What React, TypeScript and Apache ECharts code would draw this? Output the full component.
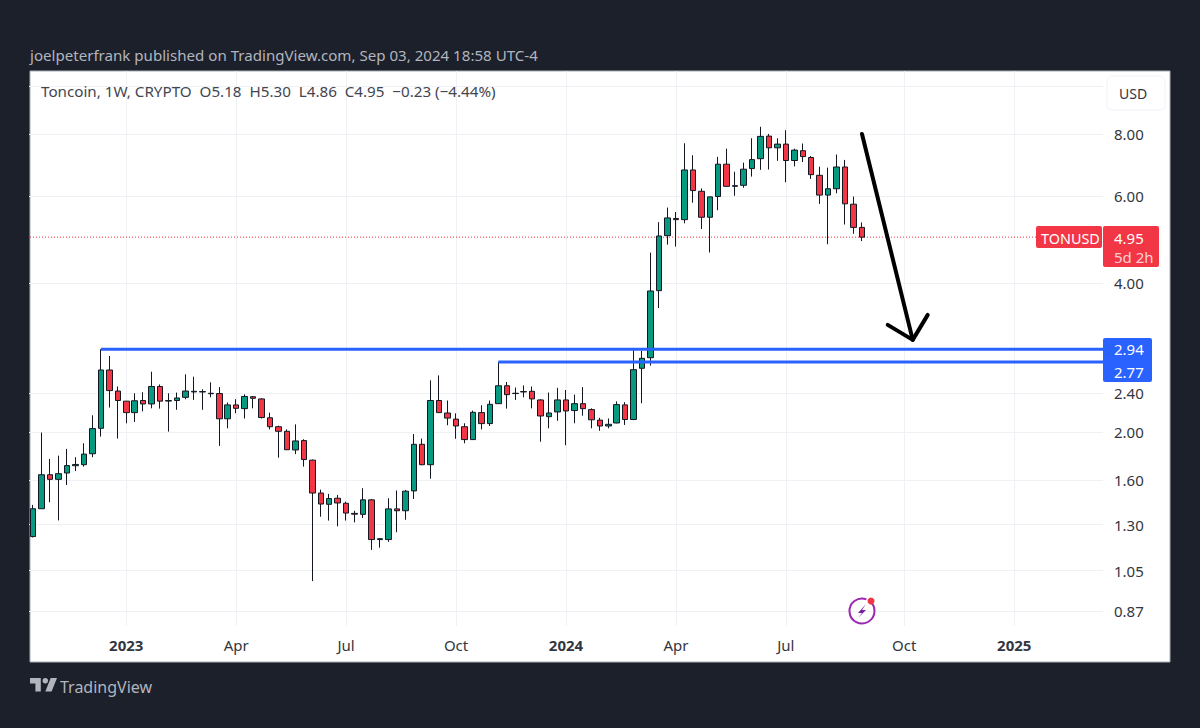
import React, { useEffect, useRef } from "react";
import * as echarts from "echarts";

const FONT = "'Noto Sans', sans-serif";
const opens = [1.23,1.40,1.64,1.605,1.653,1.71,1.718,1.808,2.035,2.669,2.42,2.309,2.189,2.316,2.279,2.472,2.31,2.316,2.35,2.41,2.414,2.395,2.392,2.127,2.269,2.23,2.357,2.333,2.137,2.05,2.007,1.84,1.922,1.755,1.506,1.429,1.47,1.436,1.37,1.364,1.459,1.213,1.213,1.399,1.387,1.521,1.889,1.718,2.316,2.185,2.124,2.05,1.931,2.189,2.08,2.282,2.48,2.395,2.41,2.417,2.322,2.148,2.196,2.322,2.21,2.282,2.22,2.114,2.057,2.086,2.269,2.12,2.69,2.826,3.86,4.985,5.40,5.37,6.766,6.127,5.43,5.98,6.95,6.29,6.30,6.81,7.13,7.92,7.5,7.63,7.07,7.40,7.17,6.6,6.02,6.2,6.86,5.77,5.18];
const closes = [1.40,1.64,1.605,1.648,1.711,1.72,1.805,2.032,2.669,2.425,2.316,2.189,2.313,2.279,2.472,2.309,2.315,2.343,2.42,2.417,2.41,2.39,2.127,2.269,2.233,2.36,2.34,2.14,2.05,2.007,1.842,1.919,1.76,1.506,1.431,1.468,1.438,1.372,1.365,1.459,1.213,1.218,1.399,1.387,1.519,1.889,1.718,2.316,2.189,2.134,2.057,1.931,2.192,2.08,2.275,2.48,2.38,2.392,2.414,2.333,2.155,2.185,2.322,2.206,2.282,2.23,2.117,2.057,2.073,2.272,2.12,2.673,2.818,3.854,4.977,5.413,5.37,6.766,6.147,5.43,5.97,6.95,6.27,6.27,6.79,7.10,7.91,7.5,7.63,7.07,7.42,7.2,6.62,6.02,6.2,6.86,5.78,5.18,4.95];
const lows = [1.225,1.40,1.443,1.326,1.563,1.668,1.703,1.779,1.958,2.241,1.94,2.083,2.096,2.202,2.233,2.23,2.004,2.218,2.33,2.322,2.218,2.35,1.875,2.035,2.182,2.13,2.233,2.13,2.025,1.775,1.84,1.805,1.703,1.0,1.349,1.325,1.29,1.325,1.314,1.341,1.156,1.168,1.2,1.255,1.33,1.465,1.714,1.61,2.185,2.064,1.938,1.898,1.931,2.025,2.057,2.282,2.23,2.322,2.35,2.233,1.912,2.035,2.107,1.881,2.083,2.158,2.035,2.012,2.035,2.083,2.067,2.114,2.286,2.724,3.56,4.78,4.737,5.28,5.81,5.14,4.61,5.61,6.26,6.0,6.23,6.56,6.77,6.78,7.06,6.39,6.88,7.02,6.49,5.78,4.79,6.07,5.25,5.03,4.86];
const highs = [1.425,1.995,1.765,1.792,1.849,1.779,1.898,2.162,2.94,2.848,2.472,2.31,2.395,2.407,2.648,2.495,2.395,2.403,2.616,2.587,2.44,2.52,2.465,2.294,2.33,2.383,2.364,2.34,2.189,2.06,2.025,2.073,1.934,1.76,1.53,1.5,1.493,1.447,1.387,1.54,1.463,1.22,1.47,1.524,1.528,1.982,1.94,2.544,2.603,2.316,2.182,2.083,2.21,2.265,2.316,2.77,2.524,2.46,2.484,2.472,2.33,2.403,2.457,2.432,2.38,2.465,2.233,2.137,2.13,2.306,2.298,2.952,2.918,4.607,5.307,5.68,5.566,7.66,7.245,6.21,5.97,7.19,7.47,6.71,7.0,7.84,8.27,8.0,7.84,8.14,7.47,7.65,7.22,6.87,6.84,7.27,7.09,5.98,5.30];

const firstWeek = Date.UTC(2022, 9, 17);
const WEEK_COUNT = 127;
const WEEK_MS = 604800000;
const weeks: string[] = [];
for (let i = 0; i < WEEK_COUNT; i++) weeks.push(new Date(firstWeek + i * WEEK_MS).toISOString().slice(0, 10));

const timeLabels: Record<string, string> = {
  "2023-01-02": "2023", "2023-04-03": "Apr", "2023-07-03": "Jul", "2023-10-02": "Oct",
  "2024-01-01": "2024", "2024-04-01": "Apr", "2024-07-01": "Jul", "2024-10-07": "Oct", "2025-01-06": "2025",
};
const gridTicks = [10, 8, 6, 4, 2.4, 2, 1.6, 1.3, 1.05, 0.87];
const priceLabels = [8, 6, 4, 2.4, 2, 1.6, 1.3, 1.05, 0.87];
const Y_MIN = 0.8115;
const Y_MAX = 10.72;
const lastClose = 4.95;
// level lines: [first week index, price]
const levels = [[8, 2.94], [55, 2.77]];
// arrow: shaft [week, price, week, price]
const arrowShaft = [98, 8.0, 104, 3.07];

const headerText = "joelpeterfrank published on TradingView.com, Sep 03, 2024 18:58 UTC-4";
const legendText = "Toncoin, 1W, CRYPTO  O5.18  H5.30  L4.86  C4.95  −0.23 (−4.44%)";

echarts.graphic.registerShape(
  "tvlogo",
  echarts.graphic.extendPath("M14 6H2v6h6v9h6V6Zm12 15h-7l6-15h7l-6 15Zm-7-9a3 3 0 1 0 0-6 3 3 0 0 0 0 6Z", {}) as any
);

export default function App() {
  const ref = useRef<HTMLDivElement>(null);
  useEffect(() => {
    const chart = echarts.init(ref.current!, undefined, { renderer: "svg" });
    const candles = opens.map((o, i) => [o, closes[i], lows[i], highs[i]]);
    const txt = (x: number, y: number, text: string, fill: string, size = 14, extra: any = {}) => ({
      type: "text", x, y, z: 20,
      style: { text, fill, font: `${size}px ${FONT}`, textVerticalAlign: "middle", verticalAlign: "middle", ...extra },
    });
    chart.setOption({
      animation: false,
      backgroundColor: "#1c202b",
      grid: { left: 29, top: 71, width: 1074, height: 555, containLabel: false },
      xAxis: {
        type: "category",
        data: weeks,
        boundaryGap: true,
        axisLine: { show: false },
        axisTick: { show: false, alignWithLabel: true, interval: (i: number, v: string) => !!timeLabels[v] },
        splitLine: { show: true, alignWithLabel: true, interval: (i: number, v: string) => !!timeLabels[v], lineStyle: { color: "#f0f1f4", width: 1 } },
        axisLabel: {
          interval: (i: number, v: string) => !!timeLabels[v],
          margin: 11,
          hideOverlap: false,
          formatter: (v: string) => {
            const t = timeLabels[v] || "";
            return /^\d/.test(t) ? `{b|${t}}` : t;
          },
          color: "#333640",
          fontSize: 15,
          fontFamily: FONT,
          rich: { b: { fontWeight: "bold", fontSize: 15, color: "#333640", fontFamily: FONT } },
        },
      },
      yAxis: {
        type: "log",
        position: "right",
        min: Y_MIN,
        max: Y_MAX,
        axisLine: { show: false },
        axisTick: { show: false, customValues: gridTicks },
        splitLine: { show: true, lineStyle: { color: "#f0f1f4", width: 1 } },
        axisLabel: {
          customValues: priceLabels,
          formatter: (v: number) => v.toFixed(2),
          margin: 11,
          color: "#333640",
          fontSize: 15,
          fontFamily: FONT,
        },
      },
      series: [
        {
          type: "custom",
          z: 1,
          silent: true,
          clip: false,
          data: [[0, lastClose]],
          encode: { x: 0, y: 1 },
          renderItem: (params: any, api: any) => {
            const p = api.coord([api.value(0), api.value(1)]);
            const cs = params.coordSys;
            return {
              type: "line",
              shape: { x1: cs.x + 1, y1: p[1], x2: cs.x + cs.width, y2: p[1] },
              style: { stroke: "#F23645", lineWidth: 1, lineDash: [1, 2] },
            };
          },
        },
        {
          type: "candlestick",
          z: 3,
          barWidth: 6,
          clip: true,
          data: candles,
          itemStyle: { color: "#089981", color0: "#F23645", borderColor: "#131722", borderColor0: "#131722", borderWidth: 1 },
        },
        {
          type: "custom",
          z: 4,
          silent: true,
          clip: false,
          data: levels,
          encode: { x: 0, y: 1 },
          renderItem: (params: any, api: any) => {
            const p = api.coord([api.value(0), api.value(1)]);
            const cs = params.coordSys;
            return {
              type: "line",
              shape: { x1: p[0], y1: p[1], x2: cs.x + cs.width, y2: p[1] },
              style: { stroke: "#2962FF", lineWidth: 3 },
            };
          },
        },
        {
          type: "custom",
          z: 5,
          silent: true,
          clip: false,
          data: [arrowShaft],
          encode: { x: [0, 2], y: [1, 3] },
          renderItem: (params: any, api: any) => {
            const a = api.coord([api.value(0), api.value(1)]);
            const b = api.coord([api.value(2), api.value(3)]);
            const st = { stroke: "#000", lineWidth: 4, lineCap: "round", lineJoin: "round" };
            return {
              type: "group",
              children: [
                { type: "line", shape: { x1: a[0], y1: a[1], x2: b[0], y2: b[1] }, style: st },
                { type: "polyline", shape: { points: [[b[0] - 25, b[1] - 15], [b[0], b[1]], [b[0] + 15, b[1] - 25]] }, style: { ...st, fill: "none" } },
              ],
            };
          },
        },
      ],
      graphic: {
        elements: [
          { type: "rect", z: -5, shape: { x: 30, y: 71, width: 1140, height: 591 }, style: { fill: "#ffffff", stroke: "#a9adb8", lineWidth: 1 } },
          txt(30, 55, headerText, "#b2b5be", 15.1),
          txt(41, 91, legendText, "#434651", 15.2),
          { type: "rect", z: 19, shape: { x: 1107, y: 76, width: 58, height: 34, r: 5 }, style: { fill: "#fff", stroke: "#f0f3fa", lineWidth: 1 } },
          txt(1119, 93, "USD", "#333640", 14),
          { type: "rect", z: 19, shape: { x: 1036, y: 226, width: 66, height: 22, r: 2 }, style: { fill: "#F23645" } },
          { type: "rect", z: 19, shape: { x: 1103, y: 226, width: 56, height: 41, r: 2 }, style: { fill: "#F23645" } },
          txt(1041, 238, "TONUSD", "#ffffff", 14.4),
          txt(1114, 238, "4.95", "#ffffff", 15),
          txt(1114, 257, "5d 2h", "#fbd0d5", 15),
          { type: "rect", z: 19, shape: { x: 1103, y: 338, width: 49, height: 44, r: 2 }, style: { fill: "#2962FF" } },
          txt(1114, 349, "2.94", "#ffffff", 15),
          txt(1114, 372, "2.77", "#ffffff", 15),
          { type: "tvlogo", z: 20, x: 28.2, y: 672.6, scaleX: 0.9, scaleY: 0.9, style: { fill: "#b2b5be" } },
          txt(60, 687, "TradingView", "#b2b5be", 16),
          { type: "arc", z: 20, shape: { cx: 862, cy: 611, r: 12.5, startAngle: -Math.PI / 3.2, endAngle: -Math.PI / 2.6, clockwise: true }, style: { stroke: "#9c27b0", fill: "none", lineWidth: 2 } },
          { type: "polygon", z: 20, shape: { points: [[866, 604], [858, 613], [862, 613], [858, 618], [866, 610], [862, 610]] }, style: { fill: "#7b1fa2" } },
          { type: "circle", z: 21, shape: { cx: 871, cy: 601, r: 3.5 }, style: { fill: "#F23645" } },
        ],
      },
    });
    return () => chart.dispose();
  }, []);
  return <div ref={ref} style={{ position: "fixed", left: 0, top: 0, width: 1200, height: 728 }} />;
}
